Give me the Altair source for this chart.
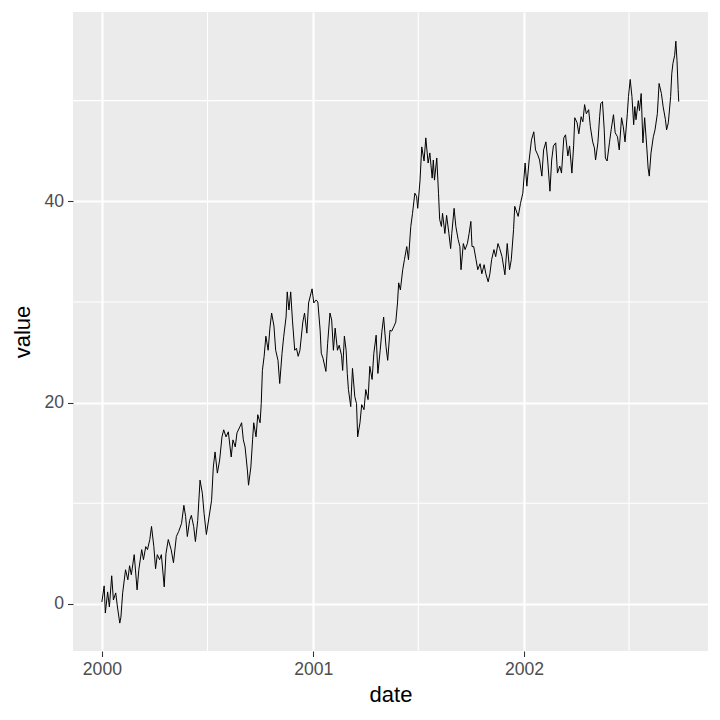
import altair as alt
import pandas as pd

# day offsets from 2000-01-01 and the series values
day_offset = [
    0, 4, 6, 10, 13, 17, 20, 24, 27, 31, 33, 36, 41, 45, 48, 51, 56, 61, 64, 69,
    72, 76, 79, 83, 86, 90, 93, 96, 100, 103, 108, 111, 115, 120, 124, 129, 133, 138, 142, 145,
    148, 152, 155, 159, 162, 166, 170, 174, 177, 181,
    190, 193, 196, 200, 204, 208, 211, 215, 219, 224, 227, 231, 234, 239, 242, 245, 248, 252, 254, 258,
    261, 263, 267, 270, 274, 276, 278, 281, 284, 288, 291, 294, 298, 301, 305, 308, 312, 315, 319, 321,
    324, 327, 330, 334, 337, 340,
    343, 348, 351, 355, 358, 364, 367, 371, 374, 378, 380, 383, 388, 391, 395, 398, 401, 404, 408, 411,
    415, 417, 420, 423, 425, 427, 431, 434, 438, 441, 443, 447, 450, 454, 457, 461, 464, 468, 471, 475,
    478, 482, 485, 488, 492, 495, 499, 502, 506, 509, 512, 514, 517,
    521, 524, 528, 531, 535, 538, 542, 545, 547, 551, 554, 558, 561, 565, 568, 572, 574, 576, 580, 583,
    585, 588, 590, 594, 597, 601, 604, 606, 610, 613, 617, 620, 622, 626, 629, 633, 636, 639, 641, 644,
    648, 651, 655, 658, 662, 665, 669, 672, 675, 679, 682, 686, 689, 693, 698, 702, 706, 709, 713,
    715, 721, 725, 729, 733, 736, 740, 744, 748, 751, 755, 758, 762, 765, 769, 772, 776, 779, 782, 786,
    789, 793, 796, 800, 803, 807, 810, 814, 817, 819, 823, 826, 830, 833, 836, 839, 843, 846, 850, 853,
    855, 859, 862, 864, 867,
    870, 872, 875, 879, 882, 886, 889, 893, 896, 900, 903, 906, 910, 912, 915, 918, 921, 923, 925, 929,
    931, 934, 937, 940, 944, 946, 948, 951, 955, 958, 962, 965, 969, 972, 976, 978, 981, 985, 987, 989,
    992, 994, 996, 998, 999,
]
value = [
    0.2, 1.8, -0.9, 1.2, -0.3, 2.8, 0.4, 1.1, -0.3, -1.9, -1.3, 1.1, 3.4, 2.4, 3.8, 2.9, 4.9, 1.4, 3.4, 5.4,
    4.4, 5.7, 5.4, 6.4, 7.7, 5.7, 3.5, 4.9, 4.4, 4.9, 1.7, 5.0, 6.4, 5.4, 4.1, 6.7, 7.2, 8.0, 9.8, 8.7,
    6.7, 8.3, 8.8, 7.7, 6.2, 8.3, 12.3, 11.0, 9.0, 6.9,
    10.3, 13.6, 15.1, 13.0, 14.3, 16.6, 17.3, 16.6, 17.1, 14.6, 16.3, 15.6, 17.0, 17.6, 18.0, 16.3, 15.6, 13.3, 11.8, 13.6,
    16.3, 18.0, 16.6, 18.8, 18.0, 19.9, 23.2, 24.6, 26.6, 25.2, 27.4, 28.9, 27.6, 25.2, 24.2, 21.9, 24.9, 26.6, 28.5, 31.0,
    29.2, 31.0, 28.2, 25.2, 25.4, 24.6,
    25.2, 28.0, 28.9, 26.9, 29.9, 31.3, 29.9, 30.2, 30.0, 27.2, 24.9, 24.4, 23.1, 25.9, 28.9, 28.2, 25.2, 27.4, 25.2, 25.7,
    24.7, 23.2, 26.6, 25.2, 22.9, 21.3, 19.6, 23.4, 20.6, 19.9, 16.6, 18.0, 19.8, 19.3, 21.3, 20.3, 23.6, 22.3, 24.9, 26.7,
    22.9, 25.2, 27.1, 28.5, 25.6, 24.2, 27.2, 27.1, 27.6, 28.0, 29.9, 31.9, 31.2,
    33.2, 34.2, 35.5, 34.2, 37.5, 38.8, 40.8, 40.5, 39.3, 42.1, 45.4, 44.0, 46.3, 43.8, 44.8, 42.3, 44.1, 42.1, 44.3, 40.8,
    38.2, 37.5, 38.8, 36.8, 38.6, 36.8, 35.3, 36.8, 39.3, 37.5, 36.2, 35.5, 33.2, 35.8, 35.2, 35.8, 36.8, 38.0, 35.5, 35.5,
    34.2, 33.2, 33.8, 32.8, 33.7, 32.8, 32.0, 32.8, 34.2, 35.2, 34.5, 35.8, 35.3, 34.5, 32.7, 35.8, 33.2, 34.2, 37.2,
    39.5, 38.5, 39.8, 40.8, 43.8, 41.5, 44.1, 46.1, 46.9, 45.1, 44.6, 44.1, 42.5, 45.1, 45.9, 44.1, 41.0, 44.1, 45.5, 45.8,
    42.8, 43.5, 42.8, 46.3, 46.6, 44.5, 45.5, 42.8, 45.5, 48.3, 47.8, 46.7, 48.4, 47.9, 49.6, 48.7, 49.1, 47.4, 45.9, 45.3,
    44.1, 45.8, 48.4, 49.7, 49.9,
    47.1, 44.3, 44.0, 45.8, 47.1, 48.6, 46.8, 46.4, 45.1, 48.3, 47.4, 45.9, 48.7, 50.4, 52.1, 50.4, 47.6, 49.4, 48.1, 50.0,
    49.0, 50.7, 45.8, 48.3, 45.1, 43.3, 42.5, 44.8, 46.4, 47.1, 48.7, 51.7, 50.7, 49.4, 48.1, 47.1, 47.8, 50.4, 52.7, 53.7,
    54.5, 55.9, 54.0, 51.1, 49.9,
]

x_major_years = [2000, 2001, 2002]
x_minor_dates = ["2000-07-02", "2001-07-02", "2002-07-02"]
y_major = [0, 20, 40]
y_minor = [10, 30, 50]

dates = (pd.Timestamp("2000-01-01") + pd.to_timedelta(day_offset, unit="D")).strftime("%Y-%m-%d")
df = pd.DataFrame({"date": list(dates), "value": value})
df_xminor = pd.DataFrame({"date": x_minor_dates})
df_yminor = pd.DataFrame({"value": y_minor})

x_scale = alt.Scale(
    type="utc",
    domain=[
        alt.DateTime(year=1999, month=11, date=12, utc=True),
        alt.DateTime(year=2002, month=11, date=15, hours=17, utc=True),
    ],
    nice=False,
)
y_scale = alt.Scale(domain=[-4.67, 58.8], nice=False, zero=False)

common_axis = dict(
    labelFontSize=17.6,
    labelColor="#4D4D4D",
    labelFont="Liberation Sans",
    tickColor="#333333",
    tickSize=5.5,
    tickWidth=1.07,
    domain=False,
    gridColor="white",
    gridWidth=2.1,
    labelPadding=4,
    titleFontSize=22,
    titleColor="black",
    titleFont="Liberation Sans",
    titleFontWeight="normal",
)

x_axis = alt.Axis(
    values=[alt.DateTime(year=y, month=1, date=1, utc=True) for y in x_major_years],
    format="%Y",
    title="date",
    titlePadding=6,
    **common_axis,
)
y_axis = alt.Axis(values=y_major, title="value", titlePadding=9.5, **common_axis)

xminor = alt.Chart(df_xminor).mark_rule(color="white", strokeWidth=1.1).encode(
    x=alt.X("date:T", scale=x_scale, axis=x_axis)
)
yminor = alt.Chart(df_yminor).mark_rule(color="white", strokeWidth=1.1).encode(
    y=alt.Y("value:Q", scale=y_scale, axis=y_axis)
)
line = alt.Chart(df).mark_line(color="black", strokeWidth=1).encode(
    x=alt.X("date:T", scale=x_scale, axis=x_axis),
    y=alt.Y("value:Q", scale=y_scale, axis=y_axis),
)

chart = (
    alt.layer(xminor, yminor, line)
    .properties(
        width=635,
        height=639,
        padding={"left": 65, "top": 4, "right": 4, "bottom": 60},
        autosize=alt.AutoSizeParams(type="none"),
        background="white",
    )
    .configure_view(fill="#EBEBEB", stroke=None)
)

chart.save("out.html", embed_options={"renderer": "svg", "actions": False})
